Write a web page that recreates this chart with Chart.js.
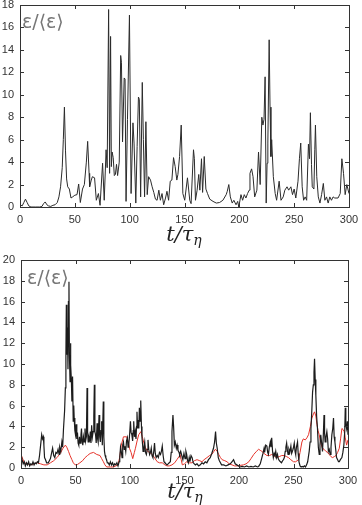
<!DOCTYPE html>
<html>
<head>
<meta charset="utf-8">
<script src="https://cdn.jsdelivr.net/npm/chart.js@4.4.1/dist/chart.umd.min.js"></script>
<style>
  body { margin: 0; background: #fff; }
  #wrap { position: relative; width: 362px; height: 505px; }
  canvas { position: absolute; left: 0; }
</style>
</head>
<body>
<div id="wrap">
  <canvas id="top_graph" width="362" height="250" style="top:0"></canvas>
  <canvas id="bottom_graph" width="362" height="255" style="top:250px"></canvas>
</div>
<script>
// top panel: single signal
const tTop = [0,2,3.5,5,6.5,8,10,14,18,20,21.5,23,24.5,26,28,30,32,34,35.5,37,38.5,39.5,40.5,41.5,42.5,43.5,45,46.5,48,50,52,53.5,55,57,58.7,60.5,61.7,63,63.5,65,66,68,69.6,71.5,73,75.3,76.8,78.5,79.5,80.8,81.7,82.6,83.3,84,85,86,87,88,89,90.5,91.8,92.5,93.5,95,95.8,96.7,98,99.8,101.3,103,104,105.6,106.8,108,108.8,110,111.5,112.5,113.6,114.8,116,117.3,119,120.5,122,123.5,125,126.6,128,129.5,131,132.7,134,135.5,137,138.5,140,141.5,143,144,145.5,147,148.5,150.2,152.7,154.8,156,158.2,159,160,161.5,163,164,165.5,166.5,168,169.5,171,173,176,179,182,185,188,189,190.4,191.8,193.5,195,197,198.5,199.5,201.5,203,204.5,206,207.5,209,209.7,211.2,212.5,214,216,217.5,219,220.5,221.5,222.5,223.5,224.5,225.3,226,227.2,228,228.8,229.5,231,232.7,234,236.3,238,240,241.5,243.5,245,247,248.5,250,251.5,253.5,254.8,256,257.3,258.6,260,261.4,263,264,264.8,265.8,266.5,268,268.8,269.4,270.6,272,273.5,275,276.6,278,279.5,281,282.5,284,285.5,287,290,292,293.5,295,296.5,298,300];
const eTop = [0.2,0.1,0.4,0.7,0.4,0.1,0,0,0,0.05,0.3,0.45,0.2,0.1,0.05,0.15,0.2,0.4,0.9,1.8,3.5,6,8.9,5,2.5,1.8,1.6,0.8,0.9,1.05,1.1,2.05,0.4,1.6,2,4,5.85,3,1.8,2.4,2.7,2.6,0.6,1.2,0.15,3.9,0.6,5.1,3.5,17.6,3,15.2,3.6,4.9,4.4,2.8,2.9,3.8,2.8,4,13.5,12.9,5.8,11.5,11.4,0.5,7.8,17.1,1.2,7.5,5.7,0.35,5.4,9.8,9.6,0.9,11.1,6,0.9,7.6,1.1,2.7,2.4,1.8,1.3,0.7,0.6,1.5,0.6,1.2,0.2,0.8,1.4,0.6,2.3,2.4,4.4,3.6,2.4,2.9,4.5,7.3,1.2,0.6,2.6,0.6,0.3,5.1,4.3,0.6,1.5,2.9,1.5,4.3,1.3,4.5,1.6,1.2,0.7,0.5,0.35,0.4,0.6,1.1,1.4,2,0.9,0.35,0.6,0.2,0.5,0,1.1,0.6,1.1,0.8,1.2,1.5,3,3.4,2.7,0.9,1.5,4.9,2,8,7.3,7.8,11.6,0.35,3.9,5.7,14.9,8.9,4.5,6,2.7,1.2,0.6,2.3,0.6,0.9,1.5,1.8,1.5,1.8,1.1,1.6,0.8,2.3,4.3,5.7,1.8,0.6,0.9,0.6,5.6,4.3,8.4,3.8,1.8,1.6,5.1,7.3,2.7,0.9,0.35,1.1,2.1,0.6,0.9,0.35,0.9,0.6,0.9,0.8,0.8,1.2,4.3,3,1.1,2,1.2];

// bottom panel: black signal and red (filtered) signal
const tBot = [0,1,2,3,4,5,6,7,8,9,10,11,12,13,14,15,16,17,18,19,19.8,20.5,21,21.6,22.5,23.5,25,26,27,28,29,30,31,32,33,34,35,35.5,36.5,37.5,38.2,39,40,40.7,41.2,41.6,42.1,42.6,43.1,43.5,44,44.4,45,45.4,45.7,46.2,46.7,47.3,47.9,48.4,48.8,49.4,50,50.6,51.2,51.8,52.4,53,53.7,54.3,55,55.5,56.1,56.7,57.3,58,58.7,59.3,60,60.6,61.1,61.6,62.2,63,63.6,64.2,64.8,65.5,66.2,66.8,67.3,67.8,68.4,69,69.8,70.3,70.8,71.6,72.2,72.8,73.4,74,74.6,75.5,76,76.6,77.2,77.8,78.5,79.2,80,81,82,83,84,85,86,87,88,89,90,90.6,91.3,92,92.7,93.3,94,94.7,95.4,96.1,96.8,97.6,98.2,98.8,99.5,100.4,101,101.7,102.4,103,103.4,104.1,104.8,105.5,106,106.4,107,107.6,108.1,108.6,109.2,109.7,110,110.5,111,111.6,112,112.8,113.5,114.2,115,115.8,116.5,117.2,118,118.8,119.5,120.2,121,121.8,122.5,123.2,124,125,126,127,128,128.8,129.6,130.4,131.2,132,133,134,135,136,137,137.8,138.5,139.4,140,140.7,141.5,142.5,143.2,144,145,145.5,146.5,147.5,148.5,149.5,150.5,151.3,152,152.8,153.5,154.3,155,156,157,158,159,160,161.5,163,164.5,166,167.5,169,170.5,172,173.6,175,176.6,177.6,178.5,179.2,180,181,182,183,184,186,188,190,192,193.5,195,196.5,198,199.5,201,203,205,207,209,211,213,215,217,218,219.5,221,222,223,223.5,224.5,225.6,226.3,227,227.8,228.7,229.3,230,230.8,231.5,232.3,233,233.7,234.5,235.3,236,237,238,239,240,240.8,241.6,242.4,243,243.7,244.4,245,245.8,246.6,247.6,248.3,249,249.8,250.7,251.4,252,252.7,253.7,254.3,255,256,257,258,259,260,261,262,263,264.4,265.2,266,266.8,267.5,268.2,268.8,269.3,269.9,270.5,271.2,272,272.8,273.6,274.3,275,275.7,276.6,277.3,278,278.5,279,279.8,280.6,281.3,282,282.8,283.6,284.4,285.2,286,286.7,287.3,288,288.7,289.5,290.5,291.3,292,293,294.4,295.3,296.2,297,297.5,298,298.7,299.4,300];
const eBot = [1.3,0.8,0.4,0.6,0.2,0.5,0.3,0.6,0.2,0.4,0.3,0.6,0.3,0.5,0.4,0.6,0.5,1.2,2.2,3.2,2.8,3,2.2,1,0.8,0.5,0.5,0.7,0.9,1.4,1.9,1.2,1,1.5,1.4,1.8,1.3,2,1.6,2.5,2,3.8,5.5,7.7,11,15.7,10.9,13.5,9.5,16,17.9,11,8.3,12,9.9,8.5,6.4,8.8,4.5,6,4.8,3.6,3.2,4.2,2.8,3.4,2.4,2.2,3,2.4,3.2,3.8,2.6,2.2,3,2.5,3.8,2.6,3,7.7,3.5,2.5,3,2.7,3.5,2.4,4.1,3,3.5,5,8,3.5,3.2,2.4,4.3,2.8,2.5,5.1,3,2.5,3.6,4.5,2.2,6.4,3,1.6,1.2,1,0.8,0.5,0.5,0.3,0.6,0.3,0.5,0.2,0.4,0.3,0.5,0.2,0.6,1,2,1.6,1,2.2,2.5,1.8,2.1,1.6,2.6,2.9,2,2.2,3,4.5,3.4,3.2,2.6,3.6,4.5,3,3.5,2.8,4,5.4,3.8,4.6,3.8,5.8,4.5,5.5,6.5,4,2.9,2.2,1.6,2,2.5,1.5,1.3,1.8,2.7,1.8,1.3,1.5,1.9,1.2,1,1.6,2.4,1.4,1,1.2,1,1.5,1.3,1.6,2.1,1.2,0.6,0.5,0.4,0.3,0.4,0.5,0.6,1.5,3.5,5.1,4,2.2,2.5,1.9,2.2,1.7,1.5,1.3,1.6,1.2,0.8,1.4,0.9,1.6,1.3,0.7,0.5,1,0.6,1.2,1,0.5,0.4,0.3,0.4,0.2,0.3,0.5,0.4,0.6,0.5,0.8,1,1.4,1.9,2.5,3.5,2.4,1.9,1,0.7,0.5,0.3,0.3,0.2,0.3,0.4,0.6,0.8,0.4,0.3,0.2,0.1,0.15,0.1,0.2,0.1,0.15,0.1,0.2,0.1,0.15,0.4,1,1.4,1.9,1.5,2.2,2.1,1.5,1.3,2,2.5,2,2.9,1.6,1,1.4,1.2,1.6,1,1.3,0.9,0.7,0.6,0.5,0.7,0.8,1,1.6,2,2.4,1.7,1.3,1.8,1.5,2.1,1.4,1.6,1.9,2.4,1.6,1.3,2,2.5,1.4,0.6,0.2,0.1,0.15,0.1,0.2,0.1,0.3,0.6,1.6,2.5,3.8,5.5,7.3,8,9.2,10.5,8.5,7,5,3.8,2,1.3,2.2,3.2,2.5,1.6,3,5.1,3.4,2.5,3,3.5,2.8,1.6,1.8,1.3,2,3.2,3.8,4.8,3,2.5,1.8,1,0.8,0.6,0.6,0.8,1,1.5,2.2,3.5,5.8,4.2,3.8,4.5,3.2];
const tRed = [0,3,6,9,12,15,18,21,24,27,30,33,36,38.5,40.7,42,43.6,45,46.7,48,49.7,52,54,56.5,58.8,61,63.4,66.5,69.5,72.5,74,75.6,77,78.6,82,85,87,89,90.5,92,94,97,98.5,99.5,101,102.5,104,105,106.5,108,110,111.3,112.5,114,116,118,120.5,123,125,127,129.6,132,134,136,138.5,141,143,145,146,147,148,150,152,154.5,157,159,161.5,164,166,168,170.6,173,175,177,178.3,180,181.4,183,184.5,187,189,191,193.6,196,198,201,204,206.5,209,211,213.5,216,218,219.5,221,223,225.6,228,230,232,234.6,237,239.2,241.5,243.5,245.4,247.5,250,252,254.6,256,257.7,259,260.8,262.3,263.8,265.5,266.9,268.3,269.3,270.5,271.5,272.5,273.6,275,276.6,278,279.7,281.3,282.8,284.3,285.8,287.5,289,290.5,292,293.2,294.4,295.5,296.5,297.5,298.7,300];
const eRed = [1.3,0.5,0.4,0.3,0.4,0.5,0.4,0.3,0.3,0.5,0.7,1,1.4,1.9,2.2,2,1.6,1.2,0.8,0.5,0.3,0.35,0.5,0.7,1,1.2,1.4,1.5,1.3,1.2,0.9,0.6,0.3,0.1,0.1,0.1,0.2,0.3,1,2.2,3,3,2.5,1.9,1.5,0.9,1.5,1.9,2.6,3.2,3.5,3,2.5,2,1.6,1.5,1.3,0.9,0.6,0.5,0.5,0.3,0.2,0.2,0.3,0.5,0.8,1.1,1.3,0.8,0.3,0.4,0.6,0.5,0.5,0.7,0.8,0.7,0.6,0.8,1,1.2,1.3,1.6,1.8,1.6,1.3,1,0.8,0.7,0.6,0.4,0.3,0.2,0.2,0.25,0.3,0.4,0.6,0.9,1.3,1.6,1.8,1.7,1.6,1.4,1.2,1.2,1.3,1.2,1,1.1,1.2,1.2,1.1,1,0.8,0.6,0.6,0.8,1.5,2.5,2.8,2.7,2.9,3.2,4,4.8,5.2,5.4,5,4.2,3.6,3.2,2.4,1.9,1.8,1.6,1.5,1.3,1.1,1,1.1,1.2,1.5,1.9,2.8,3.8,3.7,3.5,2.9,2.2,2.7];

const xTicks = [0, 50, 100, 150, 200, 250, 300];

function toPoints(xs, ys) {
    return xs.map(function(v, i){ return {x: v, y: ys[i]}; });
}

// box, inward tick marks, axis title and the inner label
const frame = {
    id: 'frame',
    afterDraw(chart, args, opts) {
        const ctx = chart.ctx;
        const a = chart.chartArea;
        const x = chart.scales.x, y = chart.scales.y;
        ctx.save();
        ctx.strokeStyle = '#333';
        ctx.lineWidth = 1;
        ctx.strokeRect(Math.round(a.left) + 0.5, Math.round(a.top) + 0.5, Math.round(a.right - a.left), Math.round(a.bottom - a.top));
        ctx.beginPath();
        x.ticks.forEach(function(t){
            const px = Math.round(x.getPixelForValue(t.value)) + 0.5;
            ctx.moveTo(px, a.top); ctx.lineTo(px, a.top + 4);
            ctx.moveTo(px, a.bottom); ctx.lineTo(px, a.bottom - 4);
        });
        y.ticks.forEach(function(t){
            const py = Math.round(y.getPixelForValue(t.value)) + 0.5;
            ctx.moveTo(a.left, py); ctx.lineTo(a.left + 4, py);
            ctx.moveTo(a.right, py); ctx.lineTo(a.right - 4, py);
        });
        ctx.stroke();

        // inner label
        ctx.fillStyle = '#777';
        ctx.font = opts.labelSize + 'px "DejaVu Sans"';
        ctx.textBaseline = 'alphabetic';
        ctx.textAlign = 'left';
        ctx.fillText('ε/⟨ε⟩', opts.labelX, opts.labelY);

        // axis title t/τ_η
        ctx.fillStyle = '#222';
        const big = 'italic 21px "DejaVu Serif"';
        const small = 'italic 14px "DejaVu Serif"';
        ctx.font = big;
        const w1 = ctx.measureText('t/τ').width;
        ctx.font = small;
        const w2 = ctx.measureText('η').width;
        let sx = opts.titleX - (w1 + w2) / 2;
        ctx.font = big;
        ctx.fillText('t/τ', sx, opts.titleY);
        ctx.font = small;
        ctx.fillText('η', sx + w1, opts.titleY + 4);
        ctx.restore();
    }
};

function makeOptions(ymax, pad, yWidth, xHeight, frameOpts) {
    return {
        responsive: false,
        animation: false,
        events: [],
        layout: { padding: pad },
        plugins: { legend: { display: false }, tooltip: { enabled: false }, frame: frameOpts },
        elements: { point: { radius: 0 }, line: { tension: 0 } },
        scales: {
            x: {
                type: 'linear', min: 0, max: 300,
                afterBuildTicks: function(s){ s.ticks = xTicks.map(function(v){ return {value: v}; }); },
                afterFit: function(s){ s.height = xHeight; s.paddingLeft = 0; s.paddingRight = 0; },
                grid: { display: false, drawTicks: false },
                border: { display: false },
                ticks: { padding: 6, color: '#333', font: { family: 'Liberation Sans', size: 11 }, maxRotation: 0 }
            },
            y: {
                min: 0, max: ymax,
                ticks: { stepSize: 2, padding: 6, color: '#333', font: { family: 'Liberation Sans', size: 11 } },
                afterFit: function(s){ s.width = yWidth; s.paddingTop = 0; s.paddingBottom = 0; },
                grid: { display: false, drawTicks: false },
                border: { display: false }
            }
        }
    };
}

new Chart(document.getElementById('top_graph'), {
    type: 'line',
    data: { datasets: [{
        data: toPoints(tTop, eTop),
        borderColor: '#2b2b2b',
        borderWidth: 1
    }]},
    options: makeOptions(18, {top: 5, right: 13, left: 0, bottom: 0}, 20, 43,
        {labelX: 22, labelY: 28, labelSize: 19, titleX: 184, titleY: 241}),
    plugins: [frame]
});

new Chart(document.getElementById('bottom_graph'), {
    type: 'line',
    data: { datasets: [
        { data: toPoints(tBot, eBot), borderColor: '#1c1c1c', borderWidth: 1.2 },
        { data: toPoints(tRed, eRed), borderColor: '#e5332a', borderWidth: 1 }
    ]},
    options: makeOptions(20, {top: 10, right: 14, left: 0, bottom: 0}, 21, 37,
        {labelX: 27, labelY: 34, labelSize: 19, titleX: 185, titleY: 248}),
    plugins: [frame]
});
</script>
</body>
</html>
